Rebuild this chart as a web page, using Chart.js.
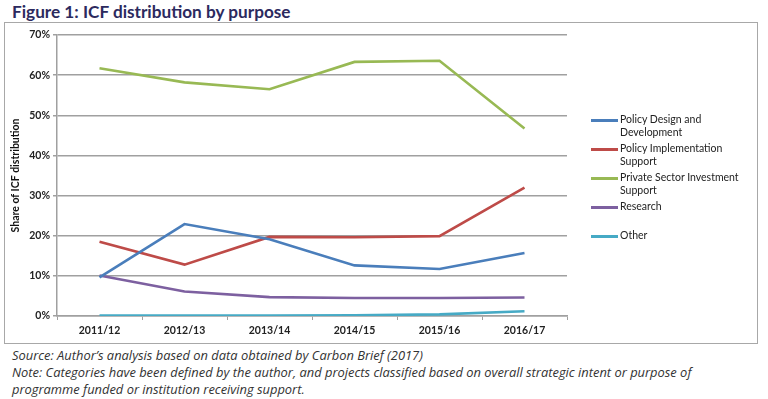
<!DOCTYPE html>
<html>
<head>
<meta charset="utf-8">
<script src="https://cdn.jsdelivr.net/npm/chart.js@4.4.0/dist/chart.umd.min.js"></script>
<style>
  body { margin: 0; background: #fff; width: 768px; height: 399px; overflow: hidden; position: relative; font-family: Lato, sans-serif; }
  #title { position: absolute; left: 12px; top: 1px; font-size: 17.2px; font-weight: bold; color: #2c2a5e; white-space: nowrap; }
  #box { position: absolute; left: 4px; top: 22px; width: 752px; height: 320px; border: 1.5px solid #a8a8a8; }
  #chart-wrap { position: absolute; left: 0; top: 0; width: 752px; height: 320px; }
  #legend { position: absolute; left: 586px; top: 67px; font-size: 10.5px; color: #222; }
  .leg-item { position: absolute; left: 0; width: 170px; line-height: 13px; }
  .leg-line { position: absolute; left: 0; top: 6px; width: 27px; height: 3px; }
  .leg-text { position: absolute; left: 29px; top: 0; white-space: nowrap; }
  #notes { position: absolute; left: 12px; top: 347px; font-family: 'Open Sans', sans-serif; font-size: 12.9px; font-style: italic; color: #333; line-height: 17px; white-space: nowrap; }
</style>
</head>
<body>
<div id="title">Figure 1: ICF distribution by purpose</div>
<div id="box">
  <div id="chart-wrap"><canvas id="icf-chart"></canvas></div>
  <div id="legend"></div>
</div>
<div id="notes">
  Source: Author’s analysis based on data obtained by Carbon Brief (2017)<br>
  Note: Categories have been defined by the author, and projects classified based on overall strategic intent or purpose of<br>
  programme funded or institution receiving support.
</div>
<script>
// Data (percent)
const years = ['2011/12', '2012/13', '2013/14', '2014/15', '2015/16', '2016/17'];
const seriesNames = [
    ['Policy Design and', 'Development'],
    ['Policy Implementation', 'Support'],
    ['Private Sector Investment', 'Support'],
    ['Research'],
    ['Other']
];
const policyDesign = [9.6, 22.9, 19.1, 12.6, 11.7, 15.7];
const policyImpl = [18.5, 12.8, 19.7, 19.6, 19.9, 32.0];
const privateSector = [61.7, 58.2, 56.5, 63.3, 63.6, 46.7];
const research = [10.1, 6.1, 4.7, 4.5, 4.5, 4.6];
const other = [0.1, 0.1, 0.1, 0.2, 0.4, 1.2];
const yTicks = [0, 10, 20, 30, 40, 50, 60, 70];

const colors = ['#4a7ebb', '#be4b48', '#98b954', '#7d60a0', '#46aac5'];
const allData = [policyDesign, policyImpl, privateSector, research, other];

// Legend (HTML so the labels can wrap like the original)
const legendTops = [23, 52, 81, 110, 139];
const legend = document.getElementById('legend');
seriesNames.forEach((name, i) => {
    const item = document.createElement('div');
    item.className = 'leg-item';
    item.style.top = legendTops[i] + 'px';
    item.innerHTML = `<span class="leg-line" style="background:${colors[i]}"></span>
        <span class="leg-text">${name.join('<br>')}</span>`;
    legend.appendChild(item);
});

const ctx = document.getElementById('icf-chart').getContext('2d');
const tickFont = { family: 'Lato', size: 10.5, weight: 'bold' };

let icfChart = new Chart(ctx, {
    type: 'line',
    data: {
        labels: years,
        datasets: allData.map((d, i) => ({
            label: seriesNames[i].join(' '),
            data: d,
            borderColor: colors[i],
            backgroundColor: colors[i],
            borderWidth: 2.6,
            pointRadius: 0,
            tension: 0
        }))
    },
    options: {
        responsive: true,
        maintainAspectRatio: false,
        animation: false,
        layout: { padding: { left: 0, right: 190, top: 12, bottom: 0 } },
        plugins: {
            legend: { display: false },
            tooltip: { enabled: false }
        },
        scales: {
            x: {
                offset: true,
                grid: { offset: true, drawOnChartArea: false, drawTicks: true, tickLength: 4, color: '#a0a0a0' },
                border: { color: '#a0a0a0', width: 1.5 },
                ticks: { font: tickFont, color: '#222', padding: 4, maxRotation: 0 },
                afterFit: (scale) => { scale.height = 27; }
            },
            y: {
                min: 0,
                max: 70,
                afterBuildTicks: (scale) => { scale.ticks = yTicks.map(v => ({ value: v })); },
                grid: { color: '#a0a0a0', lineWidth: 1.5, tickLength: 4 },
                border: { color: '#a0a0a0', width: 1.5 },
                ticks: { font: tickFont, color: '#222', padding: 3, callback: (v) => v + '%' },
                title: {
                    display: true,
                    text: 'Share of ICF distribution',
                    font: { family: 'Lato', size: 10.5, weight: 'bold' },
                    color: '#111',
                    padding: { top: 4, bottom: 0 }
                },
                afterFit: (scale) => { scale.width = 52; }
            }
        }
    }
});
</script>
</body>
</html>
